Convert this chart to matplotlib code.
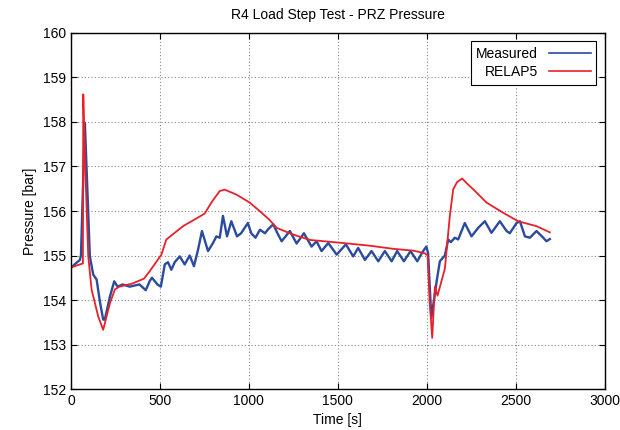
import matplotlib
matplotlib.use('Agg')
import matplotlib.pyplot as plt

plt.rcParams['font.family'] = ['Liberation Sans', 'DejaVu Sans']

# Measured PRZ pressure
t_meas = [0, 20, 50, 56, 78, 106, 125, 144, 163, 181, 190, 219, 243, 262, 290,
          330, 385, 420, 443, 455, 486, 505, 527, 545, 564, 583, 611, 639, 667,
          691, 714, 736, 770, 798, 817, 836, 854, 877, 901, 933, 956, 994, 1013,
          1037, 1062, 1090, 1110, 1137, 1160, 1184, 1230, 1268, 1309, 1352, 1380,
          1408, 1446, 1493, 1545, 1586, 1614, 1652, 1689, 1727, 1764, 1802, 1833,
          1871, 1908, 1946, 1979, 1997, 2007, 2015, 2025, 2040, 2056, 2073, 2101,
          2120, 2135, 2157, 2176, 2213, 2251, 2288, 2326, 2363, 2410, 2448, 2466,
          2504, 2523, 2551, 2579, 2616, 2654, 2672, 2691]
p_meas = [154.72, 154.8, 154.9, 155.0, 157.98, 154.98, 154.57, 154.46, 153.95, 153.56,
          153.56, 154.08, 154.42, 154.3, 154.35, 154.3, 154.35, 154.22, 154.43, 154.5,
          154.35, 154.3, 154.8, 154.85, 154.68, 154.85, 154.98, 154.8, 155.0,
          154.76, 155.13, 155.55, 155.1, 155.28, 155.43, 155.4, 155.89, 155.43,
          155.77, 155.43, 155.5, 155.73, 155.5, 155.4, 155.58, 155.5, 155.6, 155.7,
          155.5, 155.32, 155.55, 155.27, 155.5, 155.2, 155.32, 155.1, 155.28, 155.02,
          155.25, 154.98, 155.17, 154.9, 155.1, 154.87, 155.1, 154.87, 155.1, 154.87,
          155.1, 154.87, 155.1, 155.2, 155.05, 154.4, 153.6, 154.0, 154.45, 154.87,
          155.0, 155.36, 155.3, 155.4, 155.36, 155.73, 155.43, 155.62, 155.77, 155.51,
          155.77, 155.55, 155.5, 155.73, 155.77, 155.43, 155.4, 155.55, 155.4, 155.32,
          155.37]

# RELAP5 simulation
t_sim = [0, 50, 67, 69, 78, 97, 116, 153, 181, 219, 247, 272, 345, 410, 443, 508,
         536, 630, 751, 789, 836, 864, 929, 1004, 1060, 1116, 1156, 1249, 1343,
         1530, 1680, 1811, 1923, 1989, 2004, 2015, 2030, 2045, 2060, 2101, 2129,
         2148, 2170, 2198, 2230, 2260, 2335, 2429, 2513, 2616, 2691]
p_sim = [154.73, 154.8, 154.82, 158.62, 157.2, 154.98, 154.23, 153.63, 153.33, 153.93,
         154.24, 154.3, 154.37, 154.48, 154.65, 155.02, 155.36, 155.66, 155.94, 156.19,
         156.45, 156.48, 156.37, 156.19, 156.0, 155.8, 155.62, 155.47, 155.35,
         155.28, 155.22, 155.15, 155.11, 155.05, 155.0, 154.0, 153.15, 154.3, 154.1,
         154.7, 155.89, 156.49, 156.65, 156.73, 156.6, 156.49, 156.19, 155.96,
         155.77, 155.66, 155.52]

fig = plt.figure(figsize=(6.2, 4.3), dpi=100)
ax = fig.add_axes([0.1145, 0.0953, 0.861, 0.828])

ax.plot(t_meas, p_meas, color='#2a4b9e', linewidth=1.7, label='Measured',
        solid_joinstyle='round')
ax.plot(t_sim, p_sim, color='#e8202a', linewidth=1.3, label='RELAP5',
        solid_joinstyle='round')

ax.set_xlim(0, 3000)
ax.set_ylim(152, 160)
ax.set_xticks(range(0, 3001, 500))
ax.set_yticks(range(152, 161))
ax.grid(True, color='#888888', linestyle=(0, (1, 2)), linewidth=0.8)
ax.tick_params(direction='in', top=True, right=True, labelsize=10, length=4)
for s in ax.spines.values():
    s.set_linewidth(1.0)

ax.set_xlabel('Time [s]', fontsize=10)
ax.set_ylabel('Pressure [bar]', fontsize=10)
ax.set_title('R4 Load Step Test - PRZ Pressure', fontsize=10, pad=10)

leg = ax.legend(loc='upper right', markerfirst=False, fontsize=10, fancybox=False,
                framealpha=1, edgecolor='black', borderaxespad=0.6,
                handlelength=3, labelspacing=0.3)
leg.get_frame().set_linewidth(0.8)
for line in leg.get_lines():
    line.set_linewidth(1.2)

fig.savefig('out.png', dpi=100)
